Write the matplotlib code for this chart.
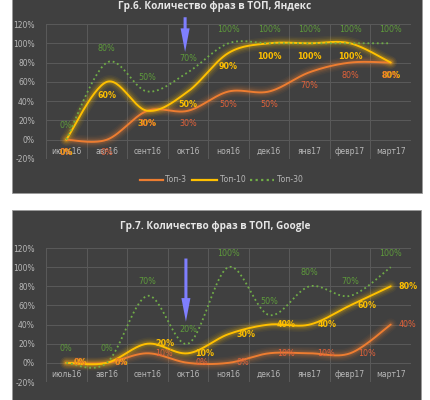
import numpy as np
import matplotlib
matplotlib.use("Agg")
import matplotlib.pyplot as plt
from matplotlib.patches import Rectangle

months = ["июль16", "авг16", "сент16", "окт16", "ноя16", "дек16", "янв17", "февр17", "март17"]
series_names = ["Топ-3", "Топ-10", "Топ-30"]

yandex_top3 = [0, 0, 30, 30, 50, 50, 70, 80, 80]
yandex_top10 = [0, 60, 30, 50, 90, 100, 100, 100, 80]
yandex_top30 = [0, 80, 50, 70, 100, 100, 100, 100, 100]

google_top3 = [0, 0, 10, 0, 0, 10, 10, 10, 40]
google_top10 = [0, 0, 20, 10, 30, 40, 40, 60, 80]
google_top30 = [0, 0, 70, 20, 100, 50, 80, 70, 100]

yticks = [-20, 0, 20, 40, 60, 80, 100, 120]

title_yandex = "Гр.6. Количество фраз в ТОП, Яндекс"
title_google = "Гр.7. Количество фраз в ТОП, Google"

W, H = 430, 400
BG = "#404040"
GRID = "#5a5a5a"
TICK = "#b8b8b8"
C_OR = "#ED7D31"
C_YE = "#FFC000"
C_GR = "#70AD47"
L_OR = "#E2623A"
L_GR = "#5E9A3C"

fig = plt.figure(figsize=(W / 100, H / 100), dpi=100)
fig.patch.set_facecolor("white")


def px_rect(x0, y0, x1, y1):
    return [x0 / W, 1 - y1 / H, (x1 - x0) / W, (y1 - y0) / H]


for (x0, y0, x1, y1) in [(12, -5, 422, 193), (12, 210, 421, 405)]:
    r = Rectangle((x0 / W, 1 - y1 / H), (x1 - x0) / W, (y1 - y0) / H,
                  transform=fig.transFigure, facecolor=BG, edgecolor="#9a9a9a",
                  lw=0.6, zorder=-10)
    fig.patches.append(r)


def smooth(y, n=30):
    x = np.arange(len(y), dtype=float)
    y = np.asarray(y, dtype=float)
    P = np.column_stack([x, y])
    Pe = np.vstack([P[0], P, P[-1]])
    out = []
    for i in range(len(P) - 1):
        p0, p1, p2, p3 = Pe[i], Pe[i + 1], Pe[i + 2], Pe[i + 3]
        c1 = p1 + (p2 - p0) / 6
        c2 = p2 - (p3 - p1) / 6
        t = np.linspace(0, 1, n)[:, None]
        seg = ((1 - t) ** 3) * p1 + 3 * ((1 - t) ** 2) * t * c1 + 3 * (1 - t) * t ** 2 * c2 + t ** 3 * p2
        out.append(seg if i == 0 else seg[1:])
    s = np.vstack(out)
    return s[:, 0], s[:, 1]


def glow(ax, xs, ys, color, lw):
    for w, a in [(9, 0.05), (7, 0.07), (5, 0.1), (3.5, 0.14)]:
        ax.plot(xs, ys, color=color, lw=w, alpha=a, solid_capstyle="round", zorder=2)
    ax.plot(xs, ys, color=color, lw=lw, solid_capstyle="round", zorder=3)


def make_panel(rect, title, title_y, top3, top10, top30, label_mode, arrow, legend):
    ax = fig.add_axes(rect)
    ax.set_facecolor("none")
    ax.set_xlim(-0.5, len(months) - 0.5)
    ax.set_ylim(-20, 120)
    ax.set_xticks(np.arange(-0.5, len(months), 1.0), minor=True)
    ax.set_yticks(yticks)
    ax.set_yticklabels([f"{v}%" for v in yticks])
    ax.set_xticks(range(len(months)))
    ax.set_xticklabels(months, fontweight="bold")
    ax.tick_params(axis="both", which="both", length=0, labelsize=5.5, labelcolor=TICK)
    ax.tick_params(axis="x", pad=5)
    ax.tick_params(axis="y", pad=8)
    ax.grid(True, axis="y", color=GRID, lw=0.7)
    ax.grid(True, axis="x", which="minor", color=GRID, lw=0.7)
    ax.grid(False, axis="x", which="major")
    for s in ["top", "right", "left"]:
        ax.spines[s].set_visible(False)
    ax.spines["bottom"].set_position(("data", 0))
    ax.spines["bottom"].set_color("none")

    xs, ys = smooth(top3)
    glow(ax, xs, ys, C_OR, 1.4)
    xs, ys = smooth(top10)
    glow(ax, xs, ys, C_YE, 1.4)
    xs, ys = smooth(top30)
    ax.plot(xs, ys, color=C_GR, lw=1.3, ls=(0, (1, 1.6)), zorder=3)

    x = np.arange(len(months))
    for i in x:
        ax.annotate(f"{top30[i]}%", (i, top30[i]), xytext=(0, 10), textcoords="offset points",
                    ha="center", va="center", fontsize=5.8, color=L_GR, zorder=5)
        if label_mode == "below":
            ax.annotate(f"{top10[i]}%", (i, top10[i]), xytext=(0, -9.5), textcoords="offset points",
                        ha="center", va="center", fontsize=5.8, color=C_YE, fontweight="bold", zorder=5)
            ax.annotate(f"{top3[i]}%", (i, top3[i]), xytext=(0, -9.5), textcoords="offset points",
                        ha="center", va="center", fontsize=5.8, color=L_OR, zorder=5)
        else:
            ax.annotate(f"{top10[i]}%", (i, top10[i]), xytext=(5.5, 0), textcoords="offset points",
                        ha="left", va="center", fontsize=5.8, color=C_YE, fontweight="bold", zorder=5)
            ax.annotate(f"{top3[i]}%", (i, top3[i]), xytext=(5.5, 0), textcoords="offset points",
                        ha="left", va="center", fontsize=5.8, color=L_OR, zorder=5)

    ax.annotate("", xy=(arrow[0], arrow[2]), xytext=(arrow[0], arrow[1]),
                arrowprops=dict(arrowstyle="simple,head_length=17,head_width=6.5,tail_width=2.2",
                                mutation_scale=1, color="#7F7FFF", lw=0, shrinkA=0, shrinkB=0),
                annotation_clip=False, zorder=6)

    fig.text(0.5, 1 - title_y / H, title, ha="center", va="center", fontsize=7.2,
             fontweight="bold", color="#e6e6e6", family="Open Sans")

    if legend:
        ly = 1 - 180 / H
        items = [(140, 163, C_OR, "-", series_names[0], 165),
                 (192, 217, C_YE, "-", series_names[1], 220),
                 (250, 274, C_GR, ":", series_names[2], 277)]
        for x0, x1, c, ls, name, tx in items:
            fig.add_artist(plt.Line2D([x0 / W, x1 / W], [ly, ly], color=c, lw=1.6,
                                      ls=ls if ls == "-" else (0, (1, 1.5)),
                                      transform=fig.transFigure))
            fig.text(tx / W, ly, name, ha="left", va="center", fontsize=5.5, color=TICK)
    return ax


make_panel(px_rect(46, 24, 411, 159), title_yandex, 7, yandex_top3, yandex_top10, yandex_top30,
           "below", (2.93, 127, 91), True)
make_panel(px_rect(46, 248, 411, 382), title_google, 227, google_top3, google_top10, google_top30,
           "right", (2.95, 109, 43), False)

fig.savefig("out.png", dpi=100, facecolor="white")
